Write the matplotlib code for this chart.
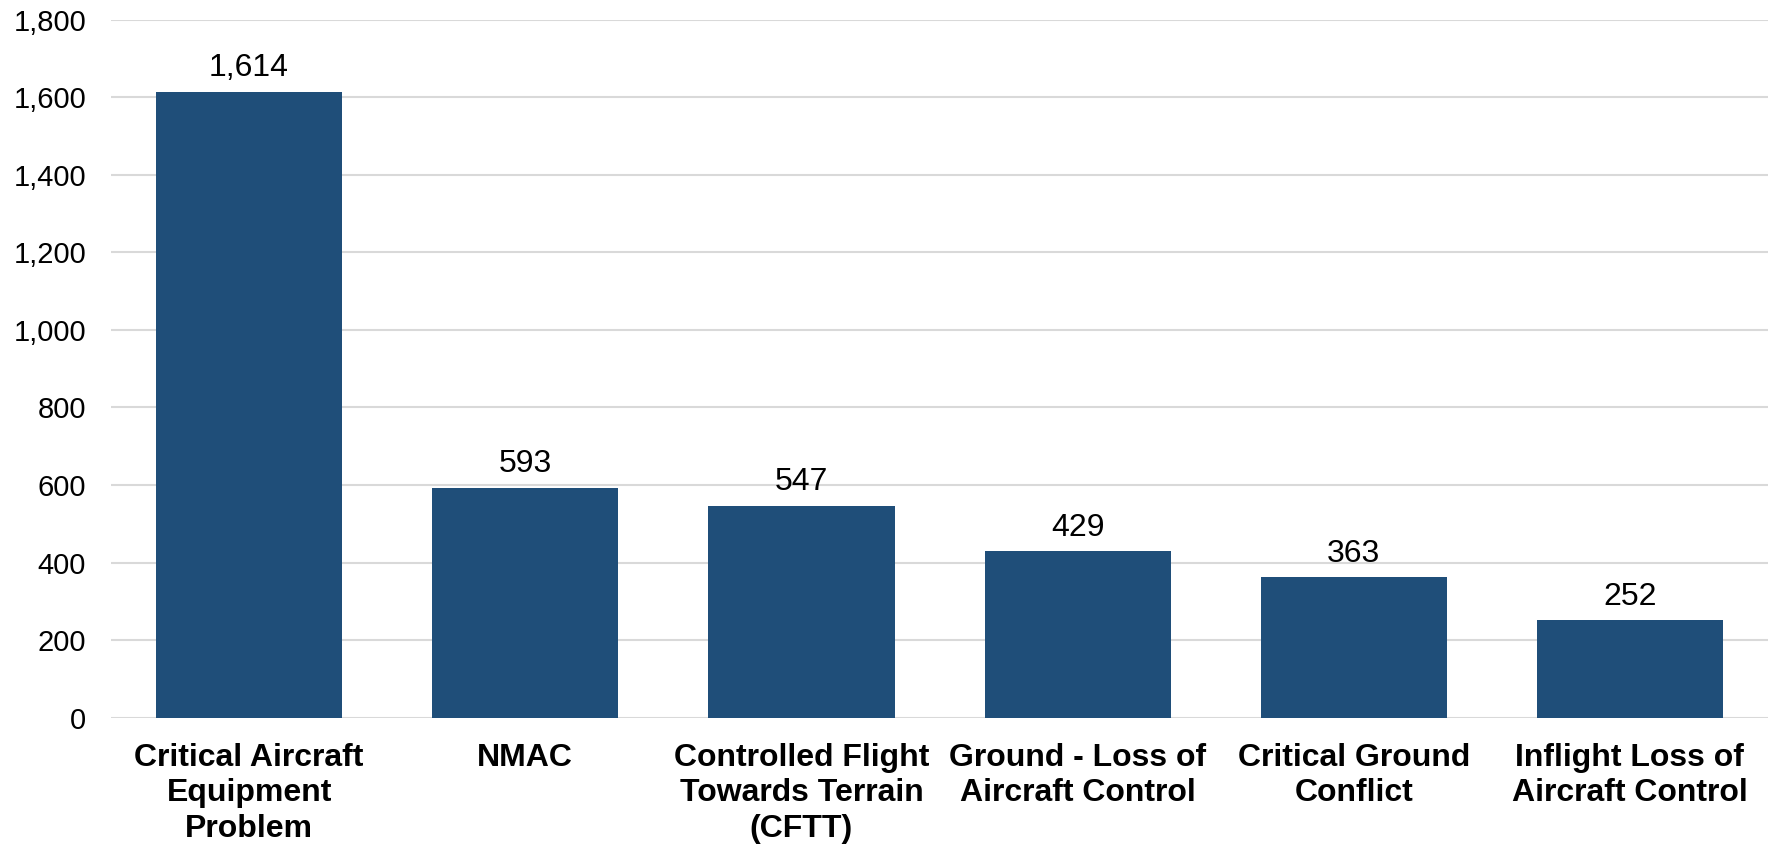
import matplotlib
matplotlib.use('Agg')
import matplotlib.pyplot as plt
from matplotlib.ticker import FuncFormatter

plt.rcParams['font.family'] = ['Liberation Sans', 'DejaVu Sans']

categories = ['Critical Aircraft\nEquipment\nProblem', 'NMAC',
              'Controlled Flight\nTowards Terrain\n(CFTT)',
              'Ground - Loss of\nAircraft Control',
              'Critical Ground\nConflict',
              'Inflight Loss of\nAircraft Control']
counts = [1614, 593, 547, 429, 363, 252]

bar_color = '#1F4E79'
grid_color = '#D9D9D9'

fig = plt.figure(figsize=(17.68, 8.49), dpi=100)
ax = fig.add_axes([0.0628, 0.1547, 0.9372, 0.8223])

x = list(range(len(categories)))
bars = ax.bar(x, counts, width=0.674, color=bar_color, zorder=2)

for b, v in zip(bars, counts):
    ax.annotate(f'{v:,}', (b.get_x() + b.get_width() / 2, v),
                xytext=(0, 6), textcoords='offset points',
                ha='center', va='bottom', fontsize=23)

ax.set_xlim(-0.5, len(categories) - 0.5)
ax.set_ylim(0, 1800)
ax.set_yticks(range(0, 1801, 200))
ax.yaxis.set_major_formatter(FuncFormatter(lambda v, p: f'{int(v):,}'))
ax.set_xticks(x)
ax.set_xticklabels(categories, fontsize=23, fontweight='bold', linespacing=1.25)

ax.grid(axis='y', color=grid_color, linewidth=1.5, zorder=0)
ax.set_axisbelow(True)
for s in ax.spines.values():
    s.set_visible(False)
ax.tick_params(axis='y', length=0, pad=18, labelsize=21)
ax.tick_params(axis='x', length=0, pad=18)

fig.savefig('out.png', dpi=100)
